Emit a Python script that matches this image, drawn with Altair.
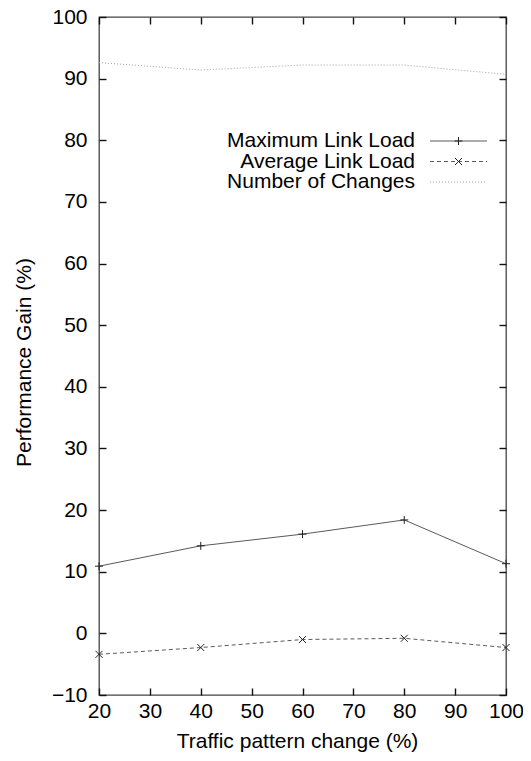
import altair as alt
import pandas as pd

# ---- data ----
x_vals = [20, 40, 60, 80, 100]
max_load = [10.9, 14.2, 16.1, 18.4, 11.3]
avg_load = [-3.4, -2.3, -1.0, -0.8, -2.3]
num_changes = [92.6, 91.4, 92.2, 92.2, 90.7]
series_names = ["Maximum Link Load", "Average Link Load", "Number of Changes"]
x_ticks = [20, 30, 40, 50, 60, 70, 80, 90, 100]
y_ticks = [-10, 0, 10, 20, 30, 40, 50, 60, 70, 80, 90, 100]

FONT = "Liberation Sans"
FS = 21
W, H = 407, 678

def series_df(name, values):
    return pd.DataFrame({"x": x_vals, "y": values, "series": [name] * len(values)})

df_max = series_df(series_names[0], max_load)
df_avg = series_df(series_names[1], avg_load)
df_num = series_df(series_names[2], num_changes)

xscale = alt.Scale(domain=[20, 100], nice=False, zero=False)
yscale = alt.Scale(domain=[-10, 100], nice=False, zero=False)

tick_style = dict(tickSize=0, domain=False, grid=True, gridDash=[7, 5000],
                  gridColor="#111", gridWidth=1.4, gridOpacity=1)

x_bottom = alt.Axis(orient="bottom", values=x_ticks, labelFont=FONT, labelFontSize=FS,
                    labelColor="black", labelPadding=5, labelFlush=False, labelOverlap=False,
                    title="Traffic pattern change (%)", titleFont=FONT, titleFontSize=FS,
                    titleFontWeight="normal", titleColor="black", titleX=198, titleY=52,
                    titleBaseline="alphabetic", titleAlign="center", **tick_style)
y_left = alt.Axis(orient="left", values=y_ticks, labelFont=FONT, labelFontSize=FS,
                  labelColor="black", labelPadding=12, labelFlush=False, labelOverlap=False,
                  title="Performance Gain (%)", titleFont=FONT, titleFontSize=FS,
                  titleFontWeight="normal", titleColor="black", titleX=-75, titleY=345,
                  titleAngle=270, titleBaseline="middle", titleAlign="center", **tick_style)
x_top = alt.Axis(orient="top", values=x_ticks, labels=False, title=None, **tick_style)
y_right = alt.Axis(orient="right", values=y_ticks, labels=False, title=None, **tick_style)

plus_shape = "M-1,0L1,0M0,-1L0,1"
cross_shape = "M-1,-1L1,1M-1,1L1,-1"
LINE_COLOR = "#5a5a5a"

max_line = alt.Chart(df_max).mark_line(color=LINE_COLOR, strokeWidth=1).encode(
    x=alt.X("x:Q", scale=xscale, axis=x_bottom),
    y=alt.Y("y:Q", scale=yscale, axis=y_left),
)
max_pts = alt.Chart(df_max).mark_point(shape=plus_shape, filled=False, size=64,
                                       color="#222", strokeWidth=1, opacity=1).encode(
    x=alt.X("x:Q", scale=xscale, axis=x_top),
    y=alt.Y("y:Q", scale=yscale, axis=y_right),
)
avg_line = alt.Chart(df_avg).mark_line(color=LINE_COLOR, strokeWidth=1, strokeDash=[4, 3]).encode(
    x=alt.X("x:Q", scale=xscale, axis=None),
    y=alt.Y("y:Q", scale=yscale, axis=None),
)
avg_pts = alt.Chart(df_avg).mark_point(shape=cross_shape, filled=False, size=49,
                                       color="#222", strokeWidth=1, opacity=1).encode(
    x=alt.X("x:Q", scale=xscale, axis=None),
    y=alt.Y("y:Q", scale=yscale, axis=None),
)
num_line = alt.Chart(df_num).mark_line(color="#a0a0a0", strokeWidth=1, strokeDash=[1, 2]).encode(
    x=alt.X("x:Q", scale=xscale, axis=None),
    y=alt.Y("y:Q", scale=yscale, axis=None),
)

# ---- gnuplot-style key (label on the left, sample on the right) ----
key_layers = []
key_styles = [
    dict(dash=None, color=LINE_COLOR, shape=plus_shape, size=64),
    dict(dash=[4, 3], color=LINE_COLOR, shape=cross_shape, size=49),
    dict(dash=[1, 2], color="#a0a0a0", shape=None, size=0),
]
for i, (name, st) in enumerate(zip(series_names, key_styles)):
    row_y = 124 + i * 20.5
    kdf = pd.DataFrame({"label": [name]})
    key_layers.append(
        alt.Chart(kdf).mark_text(align="right", baseline="middle", font=FONT,
                                 fontSize=FS, color="black").encode(
            text="label:N", x=alt.value(316), y=alt.value(row_y))
    )
    rule_kw = dict(color=st["color"], strokeWidth=1)
    if st["dash"]:
        rule_kw["strokeDash"] = st["dash"]
    key_layers.append(
        alt.Chart(kdf).mark_rule(**rule_kw).encode(
            x=alt.value(331), x2=alt.value(388), y=alt.value(row_y))
    )
    if st["shape"]:
        key_layers.append(
            alt.Chart(kdf).mark_point(shape=st["shape"], filled=False, size=st["size"],
                                      color="#222", strokeWidth=1, opacity=1).encode(
                x=alt.value(359.5), y=alt.value(row_y))
        )

chart = alt.layer(max_line, max_pts, avg_line, avg_pts, num_line, *key_layers).resolve_axis(
    x="independent", y="independent"
).properties(
    width=W, height=H,
    autosize=alt.AutoSizeParams(type="none"),
    padding={"left": 91, "top": 9, "right": 17, "bottom": 58},
    background="white",
).configure_view(stroke="#444444", strokeWidth=1.3)

chart.save("out.html", embed_options={"renderer": "svg", "actions": False})
